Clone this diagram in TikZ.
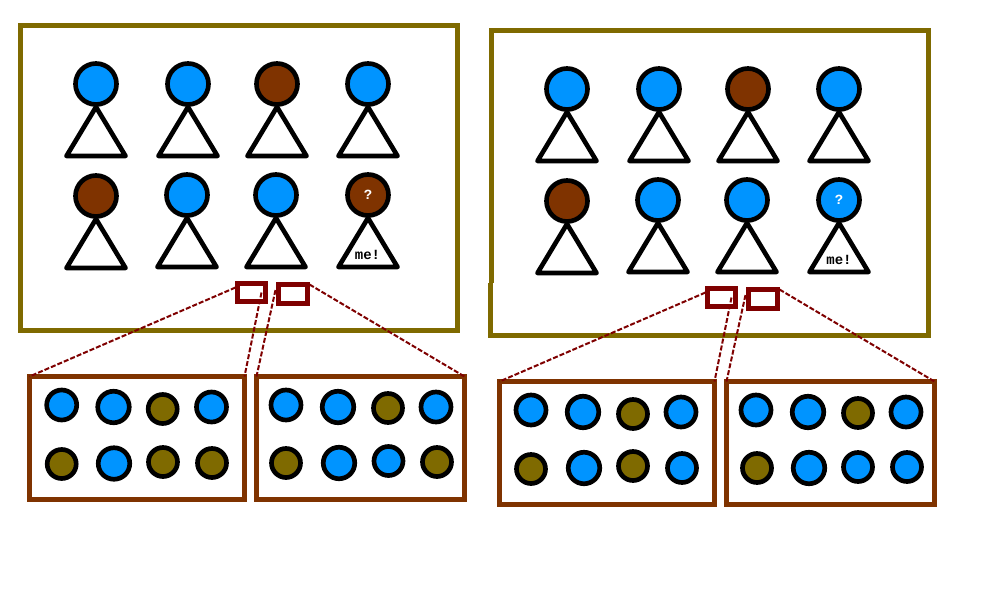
\documentclass[tikz,border=0pt]{standalone}
\usepackage{fontspec}
\setmainfont{Liberation Mono}
\usetikzlibrary{calc}
\definecolor{headblue}{HTML}{0094FF}
\definecolor{headbrown}{HTML}{7F3300}
\definecolor{olivec}{HTML}{7F6A00}
\definecolor{darkred}{HTML}{7F0000}
\tikzset{
  frame/.style={draw=olivec,line width=3.75pt,fill=white,inner sep=0,outer sep=0},
  panel/.style={draw=headbrown,line width=3.75pt,fill=white,inner sep=0,outer sep=0},
  lens/.style={draw=darkred,line width=3.75pt,fill=white,inner sep=0,outer sep=0},
  head/.style={draw=black,line width=3.5pt,circle,inner sep=0,outer sep=0,minimum size=30.75pt},
  dot/.style={draw=black,line width=3.5pt,circle,inner sep=0,outer sep=0},
  body/.style={draw=black,line width=3.5pt,line join=round,line cap=round,fill=white},
  link/.style={draw=darkred,line width=1.5pt,dash pattern=on 3.75pt off 1.5pt},
  qmark/.style={text=white,font=\bfseries\fontsize{10.5pt}{12pt}\selectfont,inner sep=0},
  metext/.style={text=black,font=\bfseries\fontsize{10.5pt}{12pt}\selectfont,inner sep=0}
}
% name, x1, y1, x2, y2, style
\newcommand{\rectnode}[6]{%
  \pgfmathsetmacro{\cxx}{(#2+#4)/2}\pgfmathsetmacro{\cyy}{(#3+#5)/2}%
  \pgfmathsetmacro{\wdd}{(#4-#2)*0.75}\pgfmathsetmacro{\htt}{(#5-#3)*0.75}%
  \node[#6,minimum width=\wdd pt,minimum height=\htt pt] (#1) at (\cxx,\cyy) {};}
% name, x, y of head, colour
\newcommand{\person}[4]{%
  \draw[body] (#2,#3+23) -- (#2-29.5,#3+72) -- (#2+29.5,#3+72) -- cycle;
  \node[head,fill=#4] (#1) at (#2,#3) {};}
% name, x, y, diameter, colour
\newcommand{\marble}[5]{\node[dot,fill=#5,minimum size=#4*0.75 pt] (#1) at (#2,#3) {};}
\begin{document}
\begin{tikzpicture}[x=0.75pt,y=-0.75pt]
\useasboundingbox[fill=white] (0,0) rectangle (1000,600);
% left group
\rectnode{fL}{20.5}{25.5}{457.5}{330.5}{frame}
\person{a1}{96}{84}{headblue}
\person{a2}{188}{84}{headblue}
\person{a3}{277}{84}{headbrown}
\person{a4}{368}{84}{headblue}
\person{a5}{96}{196}{headbrown}
\person{a6}{187}{195}{headblue}
\person{a7}{276}{195}{headblue}
\person{a8}{368}{195}{headbrown}
\node[qmark] (qL) at (368,195) {?};
\node[metext] (mL) at (367.5,255) {me!};
\rectnode{r1}{237.5}{283.5}{265.5}{301.5}{lens}
\rectnode{r2}{278.5}{284.5}{307.5}{303.5}{lens}
\rectnode{b1}{29.5}{376.5}{244.5}{499.5}{panel}
\rectnode{b2}{256.5}{376.5}{464.5}{499.5}{panel}
\draw[link] ($(r1.west)+(-2,-5)$) -- (b1.north west);
\draw[link] ($(r1.east)+(-4,0)$) -- (b1.north east);
\draw[link] ($(r2.west)+(-3,-4)$) -- (b2.north west);
\draw[link] ($(r2.north east)+(2,0)$) -- (b2.north east);
\marble{c1}{61.7}{405}{30}{headblue}
\marble{c2}{113.5}{407}{31.5}{headblue}
\marble{c3}{162.7}{409}{29}{olivec}
\marble{c4}{211.5}{407}{30}{headblue}
\marble{c5}{61.7}{464}{29}{olivec}
\marble{c6}{114}{463.5}{31.5}{headblue}
\marble{c7}{163}{462}{29}{olivec}
\marble{c8}{212}{463}{29}{olivec}
\marble{d1}{286}{405}{30}{headblue}
\marble{d2}{338}{407}{31.5}{headblue}
\marble{d3}{388}{408}{29}{olivec}
\marble{d4}{436}{407}{30}{headblue}
\marble{d5}{286}{463}{29}{olivec}
\marble{d6}{339}{463}{31.5}{headblue}
\marble{d7}{388.5}{461}{29}{headblue}
\marble{d8}{437}{462}{29}{olivec}
% right group
\rectnode{fR}{491.5}{30.5}{928.5}{335.5}{frame}
\fill[white] (488,283) rectangle (495,333);
\fill[olivec] (488,283) rectangle (493,338);
\person{e1}{567}{89}{headblue}
\person{e2}{659}{89}{headblue}
\person{e3}{748}{89}{headbrown}
\person{e4}{839}{89}{headblue}
\person{e5}{567}{201}{headbrown}
\person{e6}{658}{200}{headblue}
\person{e7}{747}{200}{headblue}
\person{e8}{839}{200}{headblue}
\node[qmark] (qR) at (839,200) {?};
\node[metext] (mR) at (839,260) {me!};
\rectnode{r3}{707.5}{288.5}{735.5}{306.5}{lens}
\rectnode{r4}{748.5}{289.5}{777.5}{308.5}{lens}
\rectnode{b3}{499.5}{381.5}{714.5}{504.5}{panel}
\rectnode{b4}{726.5}{381.5}{934.5}{504.5}{panel}
\draw[link] ($(r3.west)+(-2,-5)$) -- (b3.north west);
\draw[link] ($(r3.east)+(-4,0)$) -- (b3.north east);
\draw[link] ($(r4.west)+(-3,-4)$) -- (b4.north west);
\draw[link] ($(r4.north east)+(2,0)$) -- (b4.north east);
\marble{g1}{531}{410}{30}{headblue}
\marble{g2}{583}{412}{31.5}{headblue}
\marble{g3}{633}{414}{29}{olivec}
\marble{g4}{681}{412}{30}{headblue}
\marble{g5}{531}{469}{29}{olivec}
\marble{g6}{584}{468}{31.5}{headblue}
\marble{g7}{633}{466}{29}{olivec}
\marble{g8}{682}{468}{29}{headblue}
\marble{h1}{756}{410}{30}{headblue}
\marble{h2}{808}{412}{31.5}{headblue}
\marble{h3}{858}{413}{29}{olivec}
\marble{h4}{906}{412}{30}{headblue}
\marble{h5}{757}{468}{29}{olivec}
\marble{h6}{809}{468}{31.5}{headblue}
\marble{h7}{858}{467}{29}{headblue}
\marble{h8}{907}{467}{29}{headblue}
\end{tikzpicture}
\end{document}
